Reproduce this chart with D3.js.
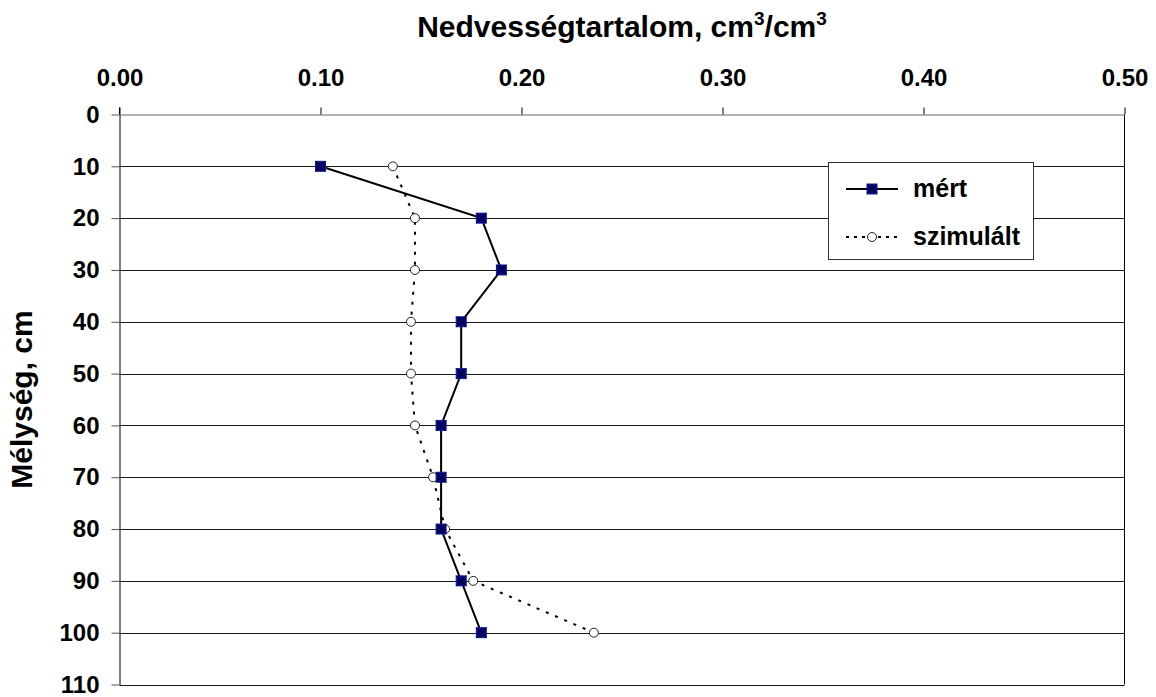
<!DOCTYPE html>
<html>
<head>
<meta charset="utf-8">
<script src="https://cdn.jsdelivr.net/npm/d3@7"></script>
<style>
  html, body { margin: 0; padding: 0; background: #fff; }
  svg { display: block; font-family: "Liberation Sans", Arial, sans-serif; font-weight: bold; }
</style>
</head>
<body>
<svg id="chart" width="1156" height="697"></svg>
<script>
// ---- data ----
const depths = [10, 20, 30, 40, 50, 60, 70, 80, 90, 100];
const mert = [0.100, 0.180, 0.190, 0.170, 0.170, 0.160, 0.160, 0.160, 0.170, 0.180];
const szimulalt = [0.136, 0.147, 0.147, 0.145, 0.145, 0.147, 0.156, 0.162, 0.176, 0.236];
const xTicks = [0, 0.1, 0.2, 0.3, 0.4, 0.5];
const yTicks = [0, 10, 20, 30, 40, 50, 60, 70, 80, 90, 100, 110];
const seriesNames = ["mért", "szimulált"];
const titleText = "Nedvességtartalom, cm";
const yTitle = "Mélység, cm";

// ---- layout ----
const L = 119.5, R = 1124.5, T = 114.5, B = 684.5;
const svg = d3.select("#chart");
const x = d3.scaleLinear().domain([0, 0.5]).range([L, R]);
const y = d3.scaleLinear().domain([0, 110]).range([T, B]);

// gridlines
svg.append("g").selectAll("line").data(yTicks.filter(d => d > 0)).join("line")
  .attr("x1", L).attr("x2", R)
  .attr("y1", d => Math.round(y(d)) + 0.5).attr("y2", d => Math.round(y(d)) + 0.5)
  .attr("stroke", "#1a1a1a").attr("stroke-width", 1);

// right border
svg.append("line").attr("x1", R).attr("x2", R).attr("y1", T).attr("y2", B)
  .attr("stroke", "#000").attr("stroke-width", 1);

// top x axis
const xAxis = d3.axisTop(x).tickValues(xTicks).tickFormat(d3.format(".2f"))
  .tickSizeInner(7).tickSizeOuter(0).tickPadding(22);
const gx = svg.append("g").attr("transform", `translate(0,${T})`).call(xAxis);
gx.select(".domain").attr("stroke", "#666");
gx.selectAll(".tick line").attr("stroke", "#000");
gx.selectAll("text").attr("font-size", 24).attr("font-weight", "bold")
  .attr("font-family", "Liberation Sans, Arial, sans-serif").attr("fill", "#000");

// left y axis
const yAxis = d3.axisLeft(y).tickValues(yTicks).tickSizeInner(8).tickSizeOuter(0).tickPadding(12);
const gy = svg.append("g").attr("transform", `translate(${L},0)`).call(yAxis);
gy.select(".domain").attr("stroke", "#000");
gy.selectAll(".tick line").attr("stroke", "#555");
gy.selectAll("text").attr("font-size", 24).attr("font-weight", "bold")
  .attr("font-family", "Liberation Sans, Arial, sans-serif").attr("fill", "#000");
// extend y axis line above top (tick look)
svg.append("line").attr("x1", L).attr("x2", L).attr("y1", T - 7).attr("y2", T).attr("stroke", "#000");

// title
const t = svg.append("text").attr("x", (L + R) / 2).attr("y", 37).attr("text-anchor", "middle")
  .attr("font-size", 30).attr("fill", "#000");
t.append("tspan").text(titleText);
t.append("tspan").attr("font-size", 19).attr("dy", -12).text("3");
t.append("tspan").attr("dy", 12).text("/cm");
t.append("tspan").attr("font-size", 19).attr("dy", -12).text("3");

// y title
svg.append("text").attr("transform", `translate(32,${(T + B) / 2}) rotate(-90)`)
  .attr("text-anchor", "middle").attr("font-size", 30).attr("fill", "#000").text(yTitle);

// lines
const lineMert = d3.line().x((d, i) => x(d)).y((d, i) => y(depths[i]));
svg.append("path").attr("d", lineMert(szimulalt)).attr("fill", "none")
  .attr("stroke", "#000").attr("stroke-width", 2).attr("stroke-dasharray", "3,7");
svg.append("path").attr("d", lineMert(mert)).attr("fill", "none")
  .attr("stroke", "#000").attr("stroke-width", 2);

function squareMarker(g, cx, cy) {
  const s = 5;
  g.append("rect").attr("x", cx - s).attr("y", cy - s).attr("width", 2 * s).attr("height", 2 * s)
    .attr("fill", "#000080").attr("stroke", "#1a1a99").attr("stroke-width", 1);
  g.append("path").attr("d", `M${cx - s},${cy - s}L${cx + s},${cy + s}M${cx + s},${cy - s}L${cx - s},${cy + s}`)
    .attr("stroke", "#000").attr("stroke-width", 1);
}
function circleMarker(g, cx, cy) {
  g.append("circle").attr("cx", cx).attr("cy", cy).attr("r", 4.5)
    .attr("fill", "#fff").attr("stroke", "#222").attr("stroke-width", 1);
}

const gs = svg.append("g");
szimulalt.forEach((v, i) => circleMarker(gs, x(v), y(depths[i])));
const gm = svg.append("g");
mert.forEach((v, i) => squareMarker(gm, x(v), y(depths[i])));

// legend
const lg = svg.append("g");
lg.append("rect").attr("x", 828.5).attr("y", 162.5).attr("width", 205).attr("height", 97)
  .attr("fill", "#fff").attr("stroke", "#333").attr("stroke-width", 1);
const ly = [189, 237];
lg.append("line").attr("x1", 846).attr("x2", 898).attr("y1", ly[0]).attr("y2", ly[0])
  .attr("stroke", "#000").attr("stroke-width", 2);
squareMarker(lg, 872, ly[0]);
lg.append("line").attr("x1", 846).attr("x2", 898).attr("y1", ly[1]).attr("y2", ly[1])
  .attr("stroke", "#000").attr("stroke-width", 2).attr("stroke-dasharray", "3,5");
circleMarker(lg, 872, ly[1]);
lg.selectAll("text.leg").data(seriesNames).join("text").attr("class", "leg")
  .attr("x", 913).attr("y", (d, i) => ly[i] + 8).attr("font-size", 25).attr("fill", "#000").text(d => d);
</script>
</body>
</html>
